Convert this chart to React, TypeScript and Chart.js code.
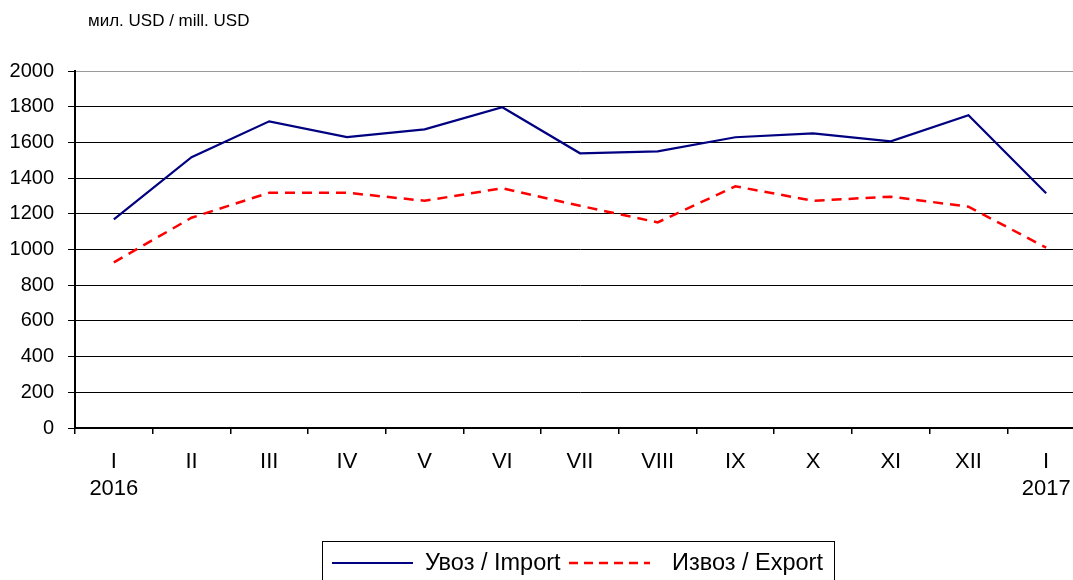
import React, { useEffect, useRef } from "react";
import { Chart, registerables } from "chart.js";

Chart.register(...registerables);

const months: (string | string[])[] = [
  ["I", "2016"], "II", "III", "IV", "V", "VI", "VII", "VIII", "IX", "X", "XI", "XII", ["I", "2017"],
];
const importValues = [1169, 1517, 1718, 1630, 1673, 1797, 1539, 1550, 1629, 1651, 1606, 1752, 1315];
const exportValues = [928, 1178, 1318, 1318, 1273, 1343, 1245, 1152, 1354, 1273, 1296, 1240, 1010];
const seriesNames = ["Увоз / Import", "Извоз / Export"];
const unitLabel = "мил. USD / mill. USD";

const FONT = "'Liberation Sans', Arial, sans-serif";

const overlayPlugin = {
  id: "overlay",
  afterDraw(chart: any) {
    const ctx = chart.ctx;
    ctx.save();
    // unit title
    ctx.fillStyle = "#000";
    ctx.font = `17px ${FONT}`;
    ctx.textAlign = "left";
    ctx.textBaseline = "middle";
    ctx.fillText(unitLabel, 88, 21);

    // legend box
    ctx.strokeStyle = "#000";
    ctx.lineWidth = 1;
    ctx.strokeRect(322.5, 541.5, 512, 60);

    const ly = 563;
    const items = [
      { x1: 332, x2: 413, tx: 425 },
      { x1: 569, x2: 650, tx: 672 },
    ];
    chart.data.datasets.forEach((ds: any, i: number) => {
      const it = items[i];
      ctx.beginPath();
      ctx.strokeStyle = ds.borderColor;
      ctx.lineWidth = ds.borderWidth;
      ctx.setLineDash(i === 1 ? [9, 6] : []);
      ctx.moveTo(it.x1, ly);
      ctx.lineTo(it.x2, ly);
      ctx.stroke();
      ctx.setLineDash([]);
      ctx.fillStyle = "#000";
      ctx.font = `23.5px ${FONT}`;
      ctx.textBaseline = "middle";
      ctx.fillText(ds.label, it.tx, ly + 1);
    });
    ctx.restore();
  },
};

export default function App() {
  const ref = useRef<HTMLCanvasElement | null>(null);
  useEffect(() => {
    if (!ref.current) return;
    const chart = new Chart(ref.current, {
      type: "line",
      data: {
        labels: months,
        datasets: [
          {
            label: seriesNames[0],
            data: importValues,
            borderColor: "#000080",
            borderWidth: 2.2,
            pointRadius: 0,
            tension: 0,
            fill: false,
          },
          {
            label: seriesNames[1],
            data: exportValues,
            borderColor: "#ff0000",
            borderWidth: 2.5,
            borderDash: [10, 7],
            pointRadius: 0,
            tension: 0,
            fill: false,
          },
        ],
      },
      options: {
        animation: false,
        responsive: false,
        maintainAspectRatio: false,
        layout: { padding: { top: 71, right: 15, left: 0, bottom: 0 } },
        plugins: {
          legend: { display: false },
          tooltip: { enabled: false },
          title: { display: false },
        },
        scales: {
          x: {
            type: "category",
            offset: true,
            grid: {
              offset: true,
              drawOnChartArea: false,
              drawTicks: true,
              tickLength: 6,
              color: "#000",
              lineWidth: 1.5,
            },
            border: { display: true, color: "#000", width: 2 },
            ticks: {
              color: "#000",
              font: { family: FONT, size: 22, lineHeight: 1.25 },
              padding: 14,
              maxRotation: 0,
              autoSkip: false,
            },
            afterFit: (s: any) => {
              s.height = 152;
            },
          },
          y: {
            min: 0,
            max: 2000,
            ticks: {
              stepSize: 200,
              color: "#000",
              font: { family: FONT, size: 20 },
              padding: 14,
              callback: (v: any) => String(v),
            },
            grid: {
              color: (c: any) => (c.tick && c.tick.value === 2000 ? "#999999" : "#000000"),
              tickColor: "#000",
              tickLength: 7,
              drawTicks: true,
              lineWidth: 1,
            },
            border: { display: true, color: "#000", width: 2 },
            afterFit: (s: any) => {
              s.width = 75;
            },
          },
        },
      },
      plugins: [overlayPlugin],
    });
    return () => chart.destroy();
  }, []);

  return (
    <div
      style={{
        position: "fixed",
        left: 0,
        top: 0,
        width: 1073,
        height: 580,
        overflow: "hidden",
        background: "#fff",
      }}
    >
      <canvas ref={ref} width={1100} height={580} style={{ width: 1100, height: 580, display: "block" }} />
    </div>
  );
}
